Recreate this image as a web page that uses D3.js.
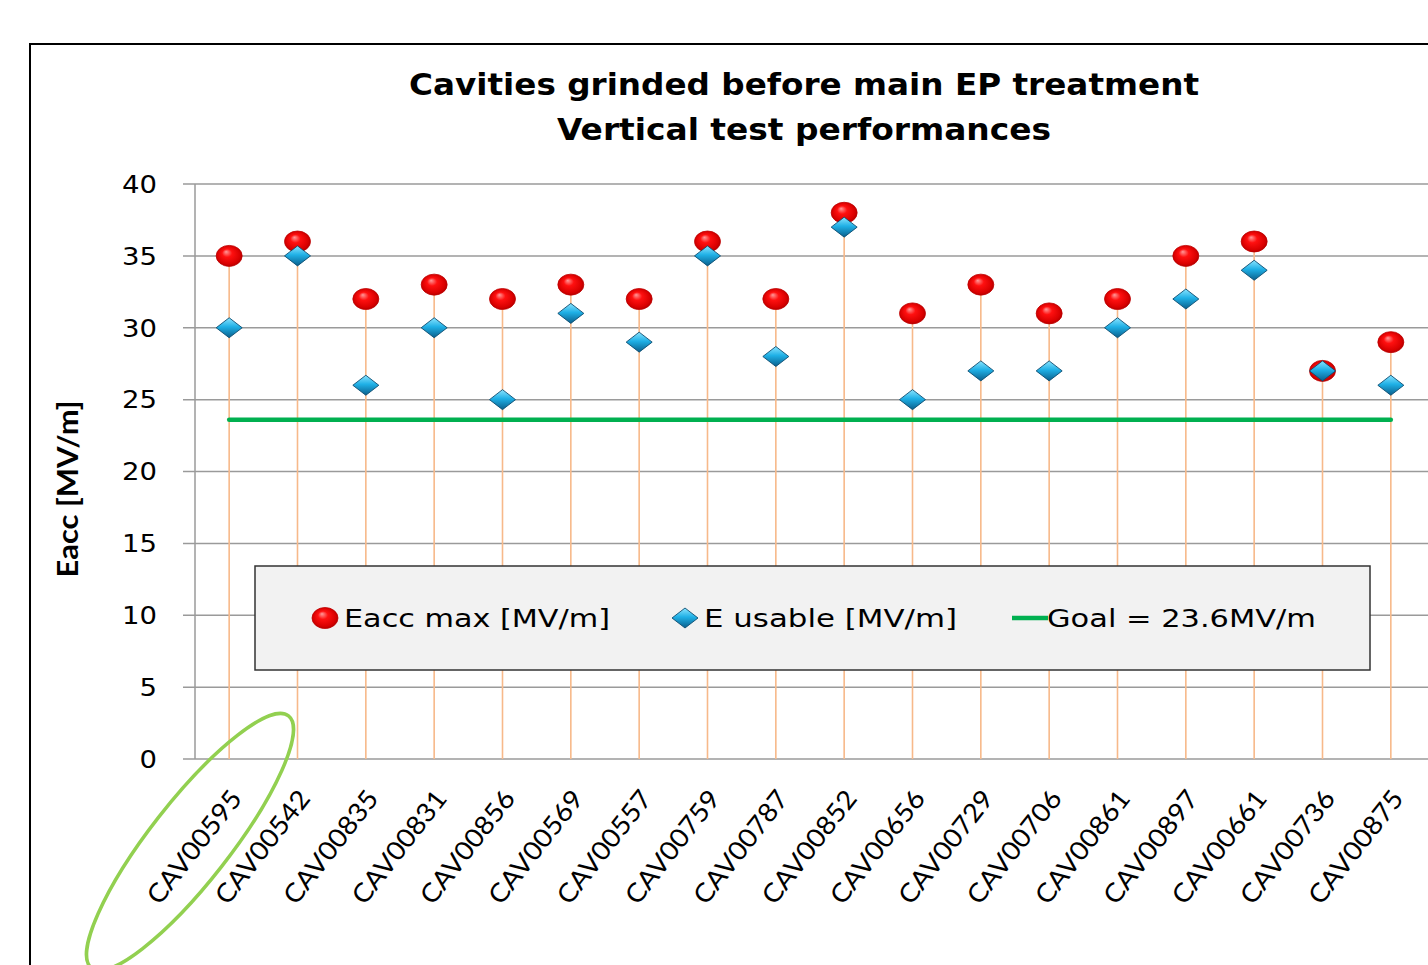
<!DOCTYPE html>
<html><head><meta charset="utf-8">
<script src="https://cdn.jsdelivr.net/npm/d3@7"></script>
<style>html,body{margin:0;padding:0;background:#fff;overflow:hidden}</style>
</head><body>
<svg id="chart" width="1428" height="965"></svg>
<script>
const categories = ["CAV00595","CAV00542","CAV00835","CAV00831","CAV00856","CAV00569","CAV00557","CAV00759","CAV00787","CAV00852","CAV00656","CAV00729","CAV00706","CAV00861","CAV00897","CAV00661","CAV00736","CAV00875"];
const eaccMax  = [35,36,32,33,32,33,32,36,32,38,31,33,31,32,35,36,27,29];
const eUsable  = [30,35,26,30,25,31,29,35,28,37,25,27,27,30,32,34,27,26];
const goal = 23.6;
const yTicks = [0,5,10,15,20,25,30,35,40];
const titleLines = ["Cavities grinded before main EP treatment","Vertical test performances"];
const yTitle = "Eacc [MV/m]";
const legendLabels = ["Eacc max [MV/m]","E usable [MV/m]","Goal = 23.6MV/m"];

const svg = d3.select("#chart");
const defs = svg.append("defs");
const rg = defs.append("radialGradient").attr("id","redBall").attr("cx","50%").attr("cy","50%").attr("r","55%").attr("fx","38%").attr("fy","30%");
rg.append("stop").attr("offset","0%").attr("stop-color","#ff9a9a");
rg.append("stop").attr("offset","35%").attr("stop-color","#ff1010");
rg.append("stop").attr("offset","80%").attr("stop-color","#d80000");
rg.append("stop").attr("offset","100%").attr("stop-color","#a00000");
const bg = defs.append("linearGradient").attr("id","blueDia").attr("x1","0").attr("y1","0").attr("x2","0").attr("y2","1");
bg.append("stop").attr("offset","0%").attr("stop-color","#8ae4ff");
bg.append("stop").attr("offset","45%").attr("stop-color","#1fb0e6");
bg.append("stop").attr("offset","100%").attr("stop-color","#0a5f8c");

// outer frame
svg.append("rect").attr("x",30).attr("y",44).attr("width",1500).attr("height",1000)
  .attr("fill","#fff").attr("stroke","#000").attr("stroke-width",2);

const pLeft = 195, pRight = 1425, pTop = 184, pBottom = 759;
const x = d3.scalePoint().domain(categories).range([pLeft,pRight]).padding(0.5);
const y = d3.scaleLinear().domain([0,40]).range([pBottom,pTop]);

// gridlines
svg.append("g").selectAll("line").data(yTicks).join("line")
  .attr("x1",183).attr("x2",1428).attr("y1",d=>y(d)).attr("y2",d=>y(d))
  .attr("stroke","#9a9a9a").attr("stroke-width",1.5);
// y axis line
svg.append("line").attr("x1",pLeft).attr("x2",pLeft).attr("y1",pTop).attr("y2",pBottom)
  .attr("stroke","#9a9a9a").attr("stroke-width",1.5);
// y tick labels
svg.append("g").selectAll("text").data(yTicks).join("text")
  .attr("x",157).attr("y",d=>y(d)).attr("dy","0.36em").attr("text-anchor","end")
  .attr("font-family","DejaVu Sans, Verdana, sans-serif").attr("font-size",24.5)
  .attr("textLength",d=>String(d).length*17.5).attr("lengthAdjust","spacingAndGlyphs")
  .attr("fill","#000").text(d=>d);

// drop lines
svg.append("g").selectAll("line").data(categories).join("line")
  .attr("x1",d=>x(d)).attr("x2",d=>x(d)).attr("y1",(d,i)=>y(eaccMax[i])).attr("y2",y(0))
  .attr("stroke","#f7b98a").attr("stroke-width",1.6);

// goal line
svg.append("line").attr("x1",x(categories[0])).attr("x2",x(categories[categories.length-1]))
  .attr("y1",y(goal)).attr("y2",y(goal)).attr("stroke","#00b050").attr("stroke-width",4.5).attr("stroke-linecap","round");

// markers
function redBall(g,cx,cy){
  g.append("ellipse").attr("cx",cx).attr("cy",cy).attr("rx",13).attr("ry",10.5)
    .attr("fill","url(#redBall)").attr("stroke","#c00000").attr("stroke-width",0.8);
}
function blueDiamond(g,cx,cy){
  g.append("path").attr("d",`M${cx-13},${cy} L${cx},${cy-10} L${cx+13},${cy} L${cx},${cy+10} Z`)
    .attr("fill","url(#blueDia)").attr("stroke","#0d4d70").attr("stroke-width",0.9);
}
const mg = svg.append("g");
categories.forEach((c,i)=>{ redBall(mg,x(c),y(eaccMax[i])); });
categories.forEach((c,i)=>{ blueDiamond(mg,x(c),y(eUsable[i])); });

// x labels
svg.append("g").selectAll("text").data(categories).join("text")
  .attr("transform",d=>`translate(${x(d)+14},${pBottom+40}) rotate(-52)`)
  .attr("text-anchor","end")
  .attr("font-family","Lato, Carlito, sans-serif").attr("font-size",26)
  .attr("textLength",136).attr("lengthAdjust","spacingAndGlyphs")
  .attr("fill","#000").text(d=>d);

// title
svg.append("text").attr("x",804).attr("y",95).attr("text-anchor","middle")
  .attr("font-family","DejaVu Sans, Verdana, sans-serif").attr("font-weight","bold").attr("font-size",30)
  .attr("textLength",790).attr("lengthAdjust","spacingAndGlyphs").text(titleLines[0]);
svg.append("text").attr("x",804).attr("y",140).attr("text-anchor","middle")
  .attr("font-family","DejaVu Sans, Verdana, sans-serif").attr("font-weight","bold").attr("font-size",30)
  .attr("textLength",494).attr("lengthAdjust","spacingAndGlyphs").text(titleLines[1]);

// y title
svg.append("text").attr("transform","translate(78,489) rotate(-90)").attr("text-anchor","middle")
  .attr("font-family","Lato, Carlito, sans-serif").attr("font-weight","bold").attr("font-size",28)
  .attr("textLength",177).attr("lengthAdjust","spacingAndGlyphs").text(yTitle);

// legend
const lg = svg.append("g");
lg.append("rect").attr("x",255).attr("y",566).attr("width",1115).attr("height",104)
  .attr("fill","#f2f2f2").attr("stroke","#333").attr("stroke-width",1.5);
const ly = 618;
redBall(lg,325,ly);
blueDiamond(lg,685,ly);
lg.append("line").attr("x1",1012).attr("x2",1048).attr("y1",ly).attr("y2",ly)
  .attr("stroke","#00b050").attr("stroke-width",4.5);
const legX = [344,704,1047], legW = [266,253,269];
legendLabels.forEach((t,i)=>{
  lg.append("text").attr("x",legX[i]).attr("y",ly).attr("dy","0.36em")
    .attr("font-family","DejaVu Sans, Verdana, sans-serif").attr("font-size",24.5)
    .attr("textLength",legW[i]).attr("lengthAdjust","spacingAndGlyphs").attr("fill","#000").text(t);
});

// highlight ellipse
svg.append("ellipse").attr("transform","translate(190,842) rotate(-52)")
  .attr("cx",0).attr("cy",0).attr("rx",160).attr("ry",40)
  .attr("fill","none").attr("stroke","#92d050").attr("stroke-width",3.5);
</script>
</body></html>
